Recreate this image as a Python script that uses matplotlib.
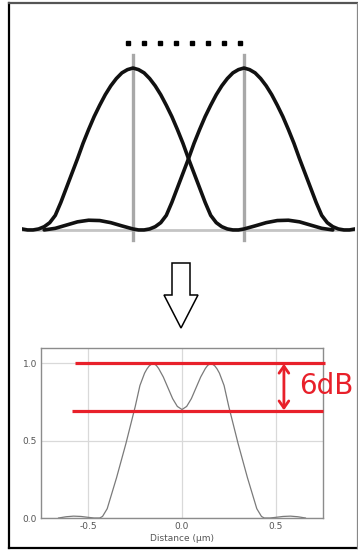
import numpy as np
import matplotlib
matplotlib.use("Agg")
import matplotlib.pyplot as plt
from matplotlib.patches import Polygon

# --- top sketch: one point-spread profile, drawn at two centres ---
profile_offset = [-1.8, -1.7, -1.6, -1.5, -1.4, -1.3, -1.2, -1.1,
                  -1.0, -0.95, -0.9, -0.85, -0.8, -0.75, -0.7, -0.65, -0.6,
                  -0.55, -0.5, -0.45, -0.4, -0.35, -0.3, -0.25, -0.2, -0.15,
                  -0.1, -0.05, 0.0, 0.05, 0.1, 0.15, 0.2, 0.25, 0.3, 0.35,
                  0.4, 0.45, 0.5, 0.55, 0.6, 0.65, 0.7, 0.75, 0.8, 0.85,
                  0.9, 0.95, 1.0,
                  1.1, 1.2, 1.3, 1.4, 1.5, 1.6, 1.7, 1.8]
profile_height = [0.0, 0.01, 0.03, 0.05, 0.06, 0.058, 0.045, 0.025,
                  0.006, 0.0, 0.0, 0.006, 0.02, 0.045, 0.09, 0.17, 0.26,
                  0.35, 0.44, 0.535, 0.62, 0.70, 0.77, 0.835, 0.89, 0.935,
                  0.97, 0.99, 1.0, 0.99, 0.97, 0.935, 0.89, 0.835, 0.77, 0.70,
                  0.62, 0.535, 0.44, 0.35, 0.26, 0.17, 0.09, 0.045, 0.02, 0.006,
                  0.0, 0.0, 0.006,
                  0.025, 0.045, 0.058, 0.06, 0.05, 0.03, 0.01, 0.0]
spot_centres = [0.0, 1.0]

# --- bottom chart: summed intensity vs distance ---
distance = [-0.66, -0.62, -0.58, -0.54, -0.50, -0.47, -0.44,
            -0.425, -0.400, -0.375, -0.350, -0.325, -0.300, -0.275, -0.250,
            -0.225, -0.200, -0.1875, -0.175, -0.1625, -0.150, -0.1375, -0.125,
            -0.100, -0.075, -0.050, -0.025, 0.000, 0.025, 0.050, 0.075, 0.100,
            0.125, 0.1375, 0.150, 0.1625, 0.175, 0.1875, 0.200, 0.225, 0.250,
            0.275, 0.300, 0.325, 0.350, 0.375, 0.400,
            0.425, 0.44, 0.47, 0.50, 0.54, 0.58, 0.62, 0.66]
intensity = [0.0, 0.008, 0.012, 0.01, 0.004, 0.0, 0.0,
             0.01, 0.06, 0.16, 0.26, 0.37, 0.48, 0.60, 0.72,
             0.855, 0.935, 0.962, 0.982, 0.993, 0.995, 0.985, 0.965,
             0.91, 0.84, 0.77, 0.72, 0.70, 0.72, 0.77, 0.84, 0.91,
             0.965, 0.985, 0.995, 0.993, 0.982, 0.962, 0.935, 0.855, 0.72,
             0.60, 0.48, 0.37, 0.26, 0.16, 0.06,
             0.01, 0.0, 0.0, 0.004, 0.01, 0.012, 0.008, 0.0]
level_top = 1.0
level_dip = 0.69
level_label = "6dB"

W, H = 358, 558
fig = plt.figure(figsize=(W / 100, H / 100), dpi=100)
fig.patch.set_facecolor("white")


def px_axes(x0, y0, x1, y1):
    # axes from pixel box (top-left origin)
    return fig.add_axes([x0 / W, 1 - y1 / H, (x1 - x0) / W, (y1 - y0) / H])


# overlay for the frame and the hollow arrow
over = fig.add_axes([0, 0, 1, 1])
over.set_xlim(0, W)
over.set_ylim(H, 0)
over.axis("off")
over.plot([8.5, 8.5], [2.5, 548], color="black", lw=1.6)
over.plot([8.5, 357], [548, 548], color="black", lw=1.6)
over.plot([8.5, 357], [2.5, 2.5], color="#555555", lw=1.6)
over.plot([357, 357], [2.5, 548], color="#888888", lw=0.9)
arrow = Polygon([(172, 263), (190, 263), (190, 295), (198, 295), (181, 328),
                 (164, 295), (172, 295)], closed=True, facecolor="white",
                edgecolor="black", lw=1.1)
over.add_patch(arrow)

# top sketch
ax1 = px_axes(22, 40, 355, 245)
ax1.set_xlim(-1.0, 2.0)
ax1.set_ylim(-0.093, 1.173)
ax1.axis("off")
ax1.axhline(0, color="#c4c4c4", lw=2.0, zorder=1)
for c in spot_centres:
    ax1.plot([c, c], [-0.062, 1.08], color="#a8a8a8", lw=2.4, zorder=1)
    ax1.plot(np.array(profile_offset) + c, profile_height, color="#111111",
             lw=2.6, solid_joinstyle="round", solid_capstyle="round", zorder=3)
ax1.plot(np.linspace(-0.043, 0.961, 8), [1.154] * 8, ls="none", marker="s",
         ms=3.4, color="black")

# bottom chart
ax2 = px_axes(41, 348, 323, 518)
ax2.plot(distance, intensity, color="#7a7a7a", lw=0.9)
ax2.set_xlim(-0.754, 0.754)
ax2.set_ylim(0, 1.097)
ax2.set_xticks([-0.5, 0.0, 0.5])
ax2.set_xticklabels(["-0.5", "0.0", "0.5"])
ax2.set_yticks([0.0, 0.5, 1.0])
ax2.set_yticklabels(["0.0", "0.5", "1.0"])
ax2.tick_params(length=0, labelsize=6.5, labelcolor="#555555", pad=3)
ax2.grid(color="#d9d9d9", lw=0.9)
ax2.set_axisbelow(True)
for s in ax2.spines.values():
    s.set_color("#8c8c8c")
    s.set_linewidth(1.0)
ax2.set_xlabel("Distance (\u00b5m)", fontsize=6.5, color="#555555", labelpad=2)

red = "#e8202a"
ax2.plot([-0.572, 0.765], [level_top, level_top], color=red, lw=2.3,
         clip_on=False, solid_capstyle="butt", zorder=4)
ax2.plot([-0.588, 0.754], [level_dip, level_dip], color=red, lw=2.3,
         clip_on=False, solid_capstyle="butt", zorder=4)
ax2.annotate("", xy=(0.545, level_top - 0.005), xytext=(0.545, level_dip + 0.005),
             arrowprops=dict(arrowstyle="<->,head_length=0.5,head_width=0.35",
                             color=red, lw=2.0, shrinkA=0, shrinkB=0),
             annotation_clip=False, zorder=5)
ax2.text(0.625, (level_top + level_dip) / 2 + 0.005, level_label, color=red,
         fontsize=20, va="center", ha="left", clip_on=False, zorder=5)

fig.savefig("out.png", dpi=100)
